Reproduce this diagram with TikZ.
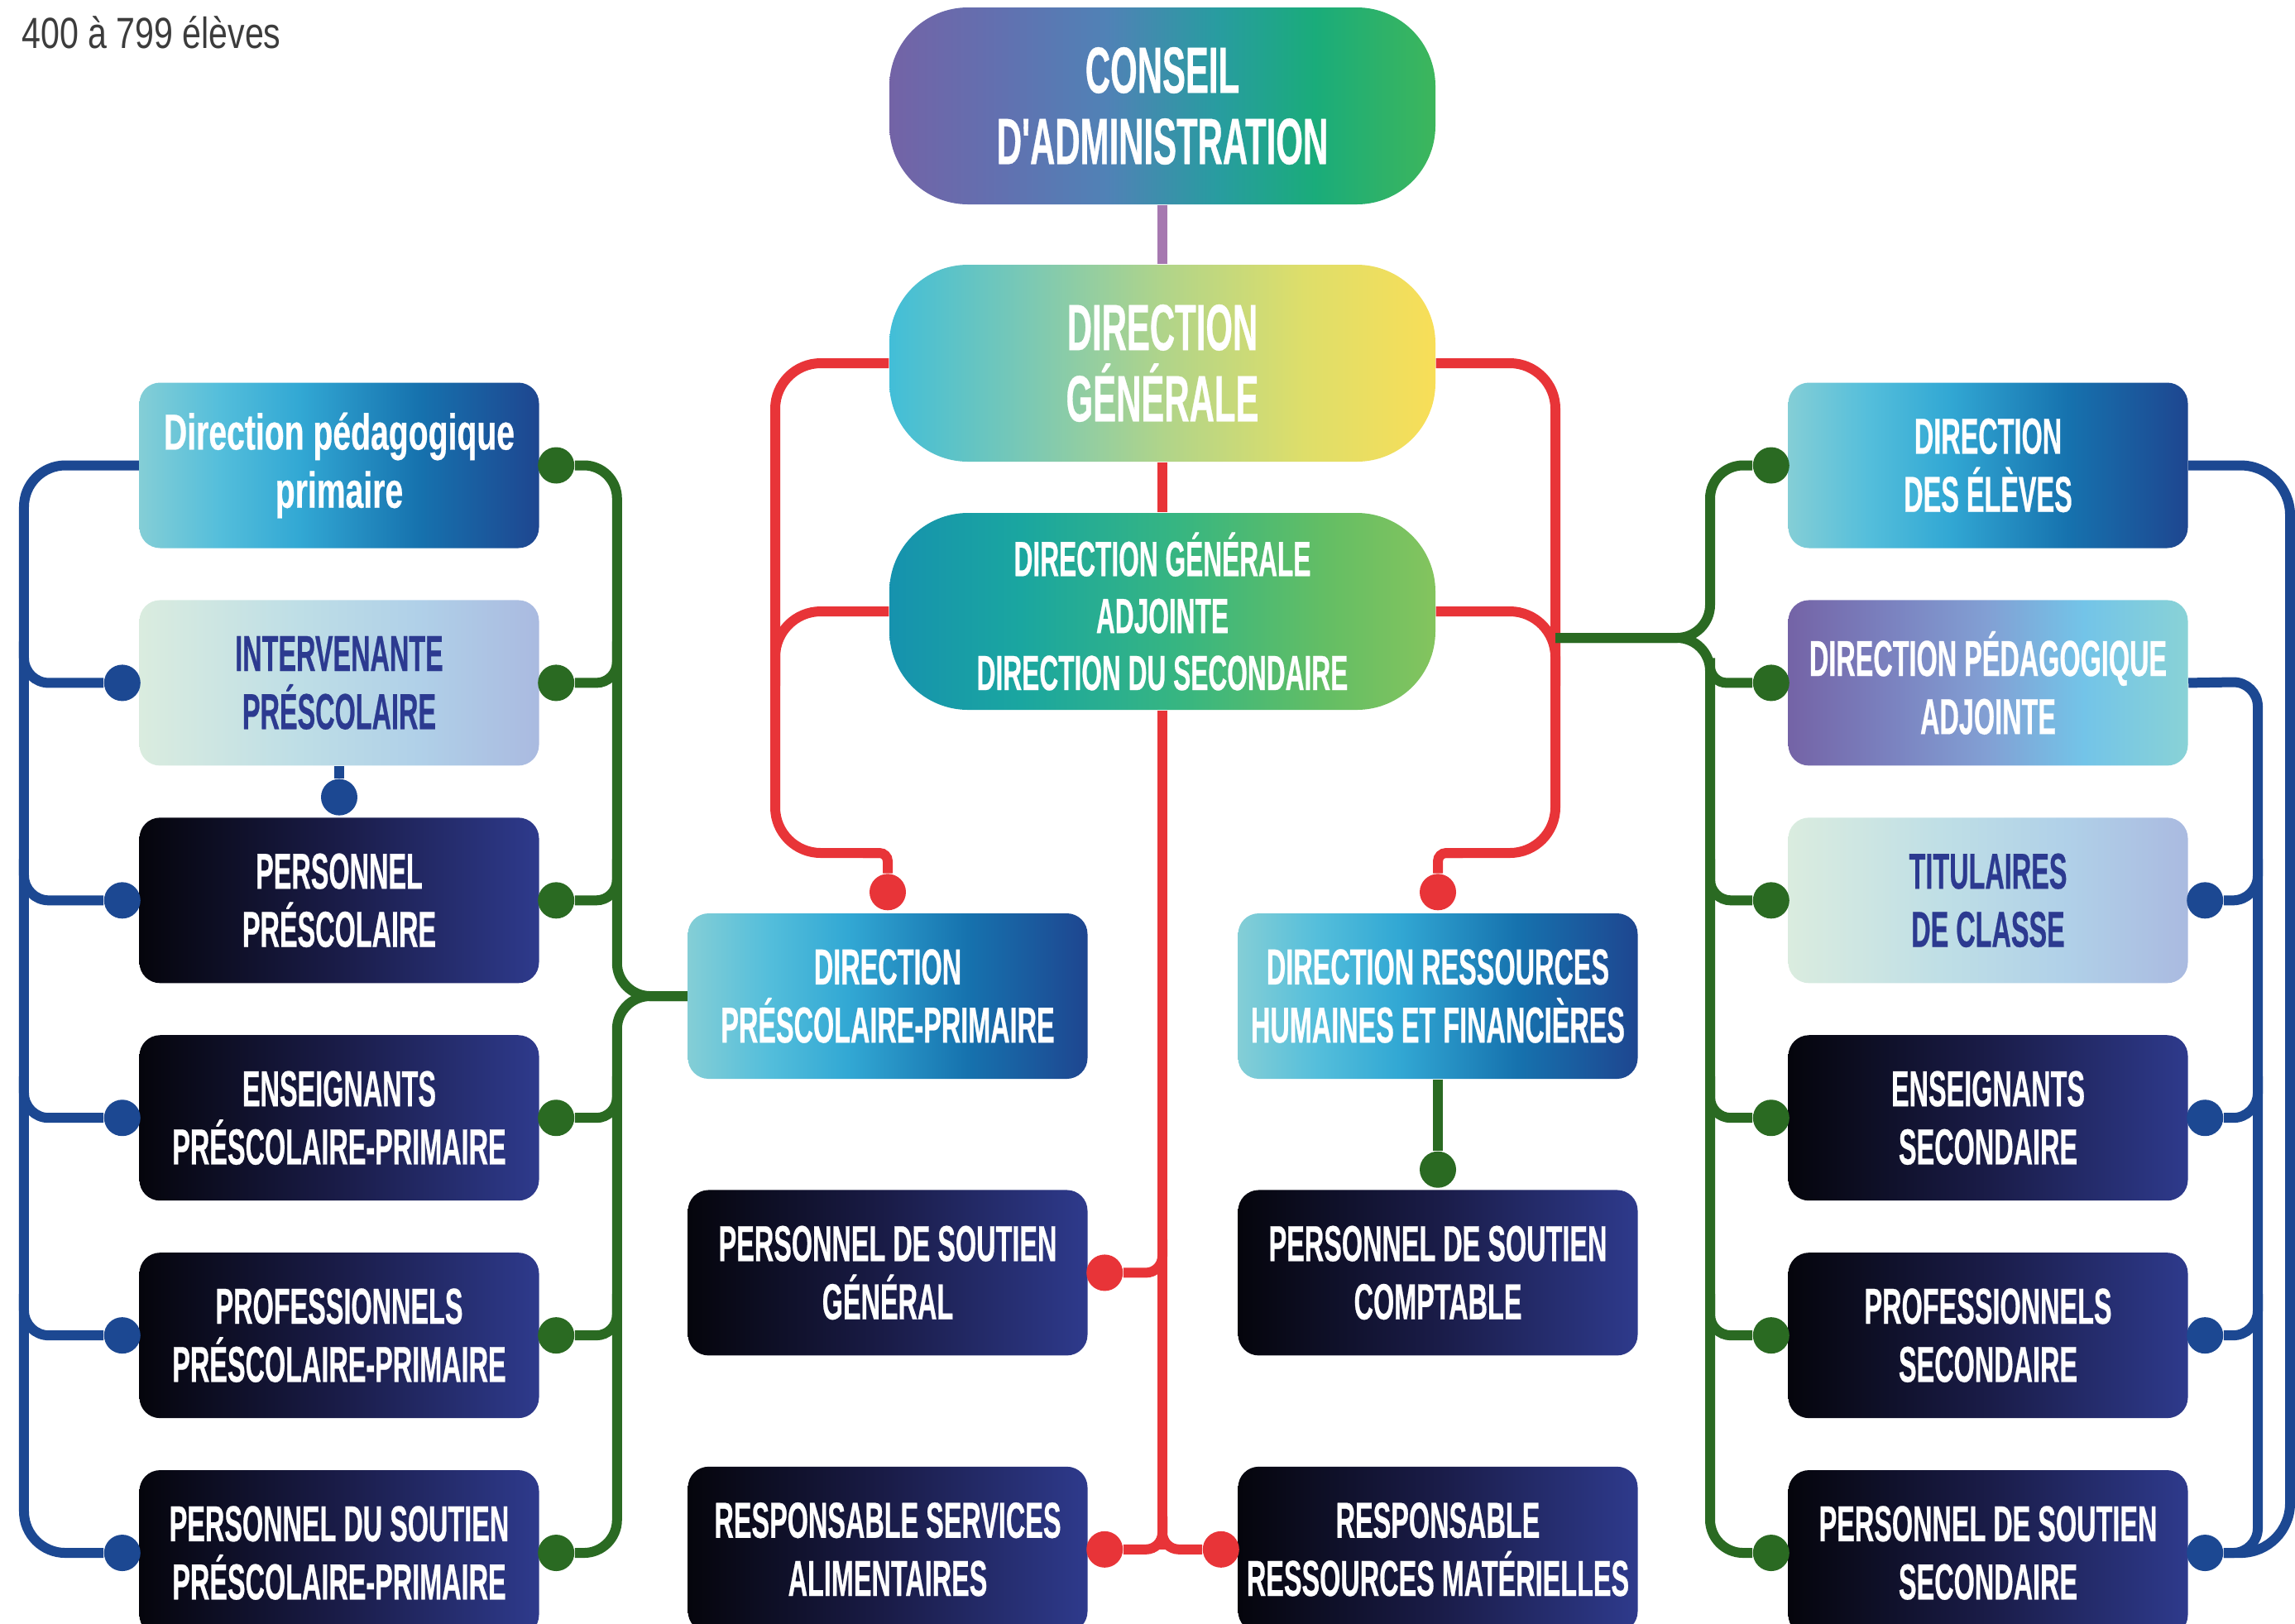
\documentclass[tikz,border=0pt]{standalone}
\usepackage{fontspec}
\setmainfont{Liberation Sans}
\newfontfamily\tilefont[FakeStretch=0.53, FakeBold=0.4]{Liberation Sans}
\newfontfamily\widefont[FakeStretch=0.64, FakeBold=0.4]{Liberation Sans}
\newfontfamily\notefont[FakeStretch=0.78]{Liberation Sans}
\usepackage{tikz}
\usetikzlibrary{positioning, calc, backgrounds}

\definecolor{inkblue}{RGB}{44,58,144}
\definecolor{noteink}{RGB}{60,60,60}
\definecolor{linkred}{RGB}{232,52,56}
\definecolor{linkgreen}{RGB}{42,106,34}
\definecolor{linkblue}{RGB}{28,72,146}
\definecolor{linkmauve}{RGB}{166,120,176}
% gradient stops
\definecolor{darkA}{RGB}{5,5,12}
\definecolor{darkB}{RGB}{26,28,72}
\definecolor{darkC}{RGB}{46,58,140}
\definecolor{aqA}{RGB}{132,206,214}
\definecolor{aqB}{RGB}{84,190,219}
\definecolor{aqC}{RGB}{50,168,212}
\definecolor{aqD}{RGB}{22,114,174}
\definecolor{aqE}{RGB}{30,70,144}
\definecolor{paA}{RGB}{218,236,223}
\definecolor{paB}{RGB}{190,222,230}
\definecolor{paC}{RGB}{176,208,232}
\definecolor{paD}{RGB}{170,186,224}
\definecolor{puA}{RGB}{116,99,166}
\definecolor{puB}{RGB}{122,128,190}
\definecolor{puC}{RGB}{130,160,212}
\definecolor{puD}{RGB}{115,196,232}
\definecolor{puE}{RGB}{137,210,214}
\definecolor{coA}{RGB}{115,99,166}
\definecolor{coB}{RGB}{98,112,176}
\definecolor{coC}{RGB}{80,130,182}
\definecolor{coD}{RGB}{40,156,160}
\definecolor{coE}{RGB}{26,172,122}
\definecolor{coF}{RGB}{61,182,92}
\definecolor{dgA}{RGB}{66,190,216}
\definecolor{dgB}{RGB}{120,200,182}
\definecolor{dgC}{RGB}{176,212,138}
\definecolor{dgD}{RGB}{222,222,106}
\definecolor{dgE}{RGB}{248,222,88}
\definecolor{gaA}{RGB}{22,146,174}
\definecolor{gaB}{RGB}{26,166,160}
\definecolor{gaC}{RGB}{56,182,128}
\definecolor{gaD}{RGB}{100,190,100}
\definecolor{gaE}{RGB}{132,196,94}

\pgfdeclarehorizontalshading{darkshade}{100bp}{color(0bp)=(darkA); color(25bp)=(darkA); color(50bp)=(darkB); color(75bp)=(darkC); color(100bp)=(darkC)}
\pgfdeclarehorizontalshading{aquashade}{100bp}{color(0bp)=(aqA); color(25bp)=(aqA); color(35bp)=(aqB); color(45bp)=(aqC); color(60bp)=(aqD); color(75bp)=(aqE); color(100bp)=(aqE)}
\pgfdeclarehorizontalshading{paleshade}{100bp}{color(0bp)=(paA); color(25bp)=(paA); color(45bp)=(paB); color(60bp)=(paC); color(75bp)=(paD); color(100bp)=(paD)}
\pgfdeclarehorizontalshading{lilacshade}{100bp}{color(0bp)=(puA); color(25bp)=(puA); color(37bp)=(puB); color(50bp)=(puC); color(62bp)=(puD); color(75bp)=(puE); color(100bp)=(puE)}
\pgfdeclarehorizontalshading{boardshade}{100bp}{color(0bp)=(coA); color(25bp)=(coA); color(35bp)=(coB); color(45bp)=(coC); color(55bp)=(coD); color(64bp)=(coE); color(75bp)=(coF); color(100bp)=(coF)}
\pgfdeclarehorizontalshading{headshade}{100bp}{color(0bp)=(dgA); color(25bp)=(dgA); color(37bp)=(dgB); color(50bp)=(dgC); color(63bp)=(dgD); color(75bp)=(dgE); color(100bp)=(dgE)}
\pgfdeclarehorizontalshading{deputyshade}{100bp}{color(0bp)=(gaA); color(25bp)=(gaA); color(37bp)=(gaB); color(52bp)=(gaC); color(65bp)=(gaD); color(75bp)=(gaE); color(100bp)=(gaE)}

\begin{document}
\begin{tikzpicture}[
    node distance=0.615cm,
    pill/.style={rectangle, rounded corners=0.95cm, minimum width=6.6cm,
                 minimum height=2.38cm, align=center, text=white, shade,
                 font=\tilefont\bfseries\fontsize{22.5}{24.5}\selectfont},
    tile/.style={rectangle, rounded corners=0.25cm, minimum width=4.83cm,
                 minimum height=2cm, inner sep=2pt, align=center, text=white, shade,
                 font=\tilefont\bfseries\fontsize{17.4}{20}\selectfont},
    dark/.style={tile, shading=darkshade},
    aqua/.style={tile, shading=aquashade},
    pale/.style={tile, shading=paleshade, text=inkblue},
    lilac/.style={tile, shading=lilacshade},
    dot/.style={circle, inner sep=0pt, minimum size=0.44cm},
    rdot/.style={dot, fill=linkred},
    gdot/.style={dot, fill=linkgreen},
    bdot/.style={dot, fill=linkblue},
    link/.style={line width=0.12cm},
    redlink/.style={link, draw=linkred},
    greenlink/.style={link, draw=linkgreen},
    bluelink/.style={link, draw=linkblue},
    mauvelink/.style={link, draw=linkmauve}
]
    \useasboundingbox (0,0) rectangle (27.74,-19.62);

    \node[anchor=west, text=noteink, font=\notefont\fontsize{15}{18}\selectfont]
        (effectif) at (0.14,-0.39) {400 à 799 élèves};

    % centre
    \node[pill, shading=boardshade] (conseil) at (14.05,-1.28) {CONSEIL\\D'ADMINISTRATION};
    \node[pill, shading=headshade]  (dg)      at (14.05,-4.39) {DIRECTION\\GÉNÉRALE};
    \node[pill, shading=deputyshade, font=\tilefont\bfseries\fontsize{17}{19.6}\selectfont]
        (dga) at (14.05,-7.39) {DIRECTION GÉNÉRALE\\ADJOINTE\\DIRECTION DU SECONDAIRE};

    % primaire
    \node[aqua, font=\widefont\bfseries\fontsize{17.4}{20}\selectfont]
        (pedprim) at (4.10,-5.625) {Direction pédagogique\\primaire};
    \node[pale, below=of pedprim] (intervp) {INTERVENANTE\\PRÉSCOLAIRE};
    \node[dark, below=of intervp] (persp)   {PERSONNEL\\PRÉSCOLAIRE};
    \node[dark, below=of persp]   (ensp)    {ENSEIGNANTS\\PRÉSCOLAIRE-PRIMAIRE};
    \node[dark, below=of ensp]    (profp)   {PROFESSIONNELS\\PRÉSCOLAIRE-PRIMAIRE};
    \node[dark, below=of profp]   (soutp)   {PERSONNEL DU SOUTIEN\\PRÉSCOLAIRE-PRIMAIRE};

    % secondaire
    \node[aqua] (eleves) at (24.03,-5.625) {DIRECTION\\DES ÉLÈVES};
    \node[lilac, below=of eleves] (pedadj) {DIRECTION PÉDAGOGIQUE\\ADJOINTE};
    \node[pale, below=of pedadj]  (titul)  {TITULAIRES\\DE CLASSE};
    \node[dark, below=of titul]   (enss)   {ENSEIGNANTS\\SECONDAIRE};
    \node[dark, below=of enss]    (profs)  {PROFESSIONNELS\\SECONDAIRE};
    \node[dark, below=of profs]   (souts)  {PERSONNEL DE SOUTIEN\\SECONDAIRE};

    % services
    \node[aqua] (dpp) at (10.73,-12.04) {DIRECTION\\PRÉSCOLAIRE-PRIMAIRE};
    \node[dark, below=1.33cm of dpp] (psg)   {PERSONNEL DE SOUTIEN\\GÉNÉRAL};
    \node[dark, below=1.33cm of psg] (resal) {RESPONSABLE SERVICES\\ALIMENTAIRES};
    \node[aqua] (drhf) at (17.38,-12.04) {DIRECTION RESSOURCES\\HUMAINES ET FINANCIÈRES};
    \node[dark, below=1.33cm of drhf]  (pscpt)  {PERSONNEL DE SOUTIEN\\COMPTABLE};
    \node[dark, below=1.33cm of pscpt] (resmat) {RESPONSABLE\\RESSOURCES MATÉRIELLES};

    % dots
    \foreach \n in {intervp,persp,ensp,profp,soutp}
        \node[bdot] (b-\n) at ([xshift=-0.2cm]\n.west) {};
    \foreach \n in {pedprim,intervp,persp,ensp,profp,soutp}
        \node[gdot] (g-\n) at ([xshift=0.2cm]\n.east) {};
    \foreach \n in {eleves,pedadj,titul,enss,profs,souts}
        \node[gdot] (g-\n) at ([xshift=-0.2cm]\n.west) {};
    \foreach \n in {titul,enss,profs,souts}
        \node[bdot] (b-\n) at ([xshift=0.2cm]\n.east) {};
    \node[bdot] (b-top)   at ([yshift=0.24cm]persp.north) {};
    \node[rdot] (r-dpp)   at ([yshift=0.25cm]dpp.north) {};
    \node[rdot] (r-drhf)  at ([yshift=0.25cm]drhf.north) {};
    \node[gdot] (g-pscpt) at ([yshift=0.24cm]pscpt.north) {};
    \node[rdot] (r-psg)   at ([xshift=0.2cm]psg.east) {};
    \node[rdot] (r-resal) at ([xshift=0.2cm]resal.east) {};
    \node[rdot] (r-resmat) at ([xshift=-0.2cm]resmat.west) {};

    \coordinate (redL)  at (9.37,-10.31);
    \coordinate (redR)  at (18.80,-10.31);
    \coordinate (redfoot) at (dga.south |- resal.east);
    \coordinate (gtipL) at ($(dpp.west)+(-0.85,0)$);
    \coordinate (gtipR) at (20.67,-7.71);
    \coordinate (gjoin) at (18.80,-7.71);
    \coordinate (blueL) at (0.29,-5.625);
    \coordinate (blueRin)  at (27.29,-8.24);
    \coordinate (blueRout) at (27.68,-5.625);

    \begin{scope}[on background layer]
        \draw[mauvelink] (conseil.south) -- (dg.north);
        \draw[redlink] (dg.south) -- (dga.north);
        \draw[redlink] (dga.south) -- (redfoot);
        % red loops
        \draw[redlink, rounded corners=0.55cm] (dg.west) -| (redL) -- ($(r-dpp |- redL)+(-0.1,0)$);
        \draw[redlink, rounded corners=0.1cm] ($(r-dpp |- redL)+(-0.3,0)$) -| (r-dpp);
        \draw[redlink, rounded corners=0.55cm] (dga.west) -| ($(dga.west -| redL)+(0,-0.9)$);
        \draw[redlink, rounded corners=0.55cm] (dg.east) -| (redR) -- ($(r-drhf |- redR)+(0.1,0)$);
        \draw[redlink, rounded corners=0.1cm] ($(r-drhf |- redR)+(0.3,0)$) -| (r-drhf);
        \draw[redlink, rounded corners=0.55cm] (dga.east) -| ($(dga.east -| redR)+(0,-0.9)$);
        \draw[redlink, rounded corners=0.2cm] (r-psg) -| ($(r-psg -| redfoot)+(0,0.4)$);
        \draw[redlink, rounded corners=0.2cm] ($(redfoot)+(0,0.4)$) |- (r-resal);
        \draw[redlink, rounded corners=0.2cm] ($(redfoot)+(0,0.4)$) |- (r-resmat);
        % green braces
        \draw[greenlink, rounded corners=0.4cm] (g-pedprim) -| (gtipL) -- (dpp.west);
        \draw[greenlink, rounded corners=0.4cm] (g-soutp) -| (gtipL) -- (dpp.west);
        \foreach \n in {intervp,persp,ensp,profp}
            \draw[greenlink, rounded corners=0.25cm] (g-\n) -| ($(g-\n -| gtipL)+(0,0.5)$);
        \draw[greenlink, rounded corners=0.4cm] (g-eleves) -| (gtipR) -- (gjoin);
        \draw[greenlink, rounded corners=0.4cm] (g-souts) -| (gtipR) -- (gjoin);
        \draw[greenlink, rounded corners=0.2cm] (g-pedadj) -| ($(g-pedadj -| gtipR)+(0,0.3)$);
        \foreach \n in {titul,enss,profs}
            \draw[greenlink, rounded corners=0.25cm] (g-\n) -| ($(g-\n -| gtipR)+(0,0.5)$);
        \draw[greenlink] (drhf.south) -- (g-pscpt);
        % blue rails
        \draw[bluelink, rounded corners=0.5cm] (pedprim.west) -- (blueL) |- (b-soutp);
        \foreach \n in {intervp,persp,ensp,profp}
            \draw[bluelink, rounded corners=0.3cm] ($(b-\n -| blueL)+(0,0.5)$) |- (b-\n);
        \draw[bluelink] (intervp.south) -- (b-top);
        \draw[bluelink, rounded corners=0.3cm] (pedadj.east) -- (blueRin) |- (b-souts);
        \draw[bluelink, rounded corners=0.6cm] (eleves.east) -- (blueRout) |- (b-souts);
        \foreach \n in {titul,enss,profs}
            \draw[bluelink, rounded corners=0.3cm] ($(b-\n -| blueRin)+(0,0.5)$) |- (b-\n);
    \end{scope}
\end{tikzpicture}
\end{document}
